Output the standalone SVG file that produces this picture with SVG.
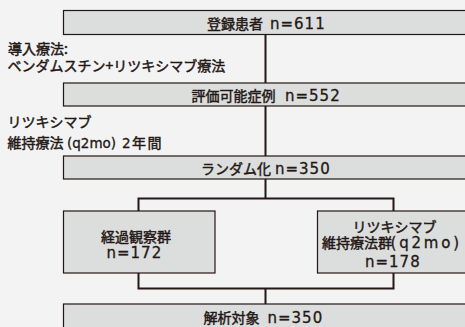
<svg xmlns="http://www.w3.org/2000/svg" width="465" height="327" viewBox="0 0 465 327">
<style>
.bg{fill:#f3f3f3}
.box{fill:#dcdddd;stroke:#231815;stroke-width:1.2}
.conn{fill:none;stroke:#231815;stroke-width:2}
text{font-family:"Noto Sans CJK JP","Noto Sans CJK SC",sans-serif;font-size:14px;font-weight:normal;fill:#231815;stroke:#231815;stroke-width:0.45}
.lat{font-family:"DejaVu Sans","Noto Sans CJK JP",sans-serif;font-size:15px;letter-spacing:1px;stroke-width:0.3}
.latw{font-family:"DejaVu Sans","Noto Sans CJK JP",sans-serif;font-size:15px;letter-spacing:2.8px;stroke-width:0.3}
.latc{font-family:"DejaVu Sans","Noto Sans CJK JP",sans-serif;font-size:13.5px;stroke-width:0.3}
</style>
<rect class="bg" x="0" y="0" width="465" height="327"/>
<g id="connectors">
<path class="conn" d="M265.5 34V83M265.5 106V156M265.5 179V198.5M138.5 211V198.5H393.5V211M138.5 273V288.5H393.5V273M265.5 288.5V304"/>
</g>
<g id="n1"><rect class="box" x="63.5" y="10.5" width="406" height="24"/><text x="207" y="28.5" font-size="13">登録患者<tspan class="lat" x="270">n=611</tspan></text></g>
<g id="cap1"><text x="8" y="53.5">導入療法:</text><text x="7.5" y="71">ベンダムスチン+リツキシマブ療法</text></g>
<g id="n2"><rect class="box" x="63.5" y="83" width="406" height="23"/><text x="191.5" y="101">評価可能症例<tspan class="lat" x="285">n=552</tspan></text></g>
<g id="cap2"><text x="7.5" y="127" font-size="14.5">リツキシマブ</text><text x="7.5" y="147.5">維持療法<tspan class="latc" x="67">(q2mo)</tspan><tspan class="latc" x="122">2</tspan><tspan x="132" letter-spacing="1.5">年間</tspan></text></g>
<g id="n3"><rect class="box" x="63.5" y="156" width="406" height="23"/><text x="201" y="174" font-size="13.5">ランダム化<tspan class="lat" x="275">n=350</tspan></text></g>
<g id="n4"><rect class="box" x="63.5" y="211" width="151.5" height="62"/><text x="101" y="241.5" font-size="14.4">経過観察群</text><text x="106.5" y="257.5"><tspan class="lat">n=172</tspan></text></g>
<g id="n5"><rect class="box" x="317.5" y="211" width="152" height="62"/><text x="352.5" y="231.5">リツキシマブ</text><text x="322" y="248" font-size="13">維持療法群<tspan class="latw" x="390.5">(q2mo)</tspan></text><text x="365" y="266.5"><tspan class="lat">n=178</tspan></text></g>
<g id="n6"><rect class="box" x="63.5" y="304" width="406" height="30"/><text x="203.5" y="322.5">解析対象<tspan class="lat" x="267.5">n=350</tspan></text></g>
</svg>
